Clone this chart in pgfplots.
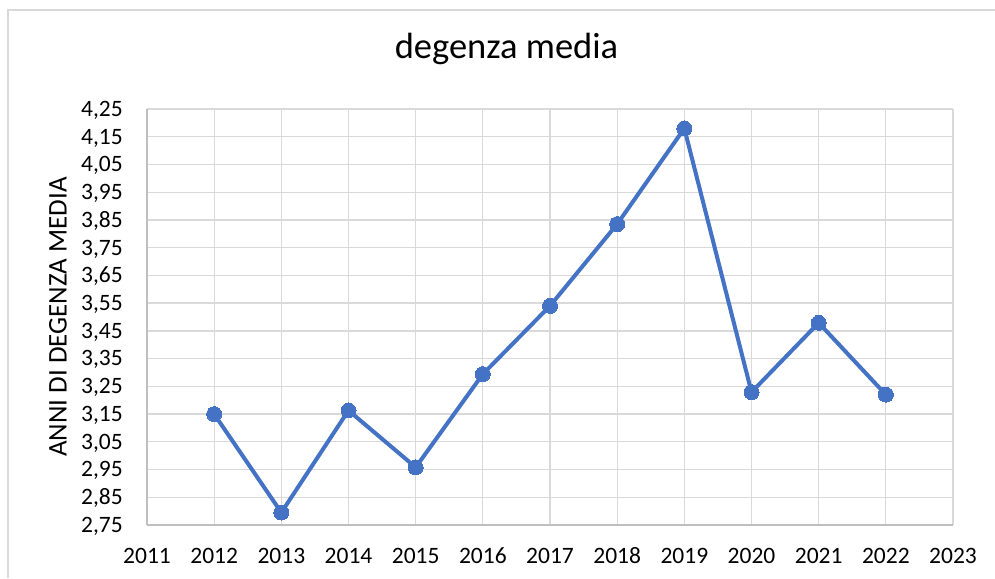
\documentclass[border=0pt]{standalone}
\usepackage{fontspec}
\setmainfont{Carlito}
\usepackage{pgfplots}
\pgfplotsset{compat=1.18}
\definecolor{gridgray}{HTML}{D9D9D9}
\definecolor{axgray}{HTML}{BFBFBF}
\definecolor{lineblue}{HTML}{4472C4}
\begin{document}
\begin{tikzpicture}
\useasboundingbox (0,0) rectangle (995pt,578pt);
\fill[white] (0,0) rectangle (995pt,578pt);
\draw[gridgray, line width=1.5pt] (8pt,0pt) -- (8pt,568pt) -- (995pt,568pt);
\begin{axis}[
  at={(147pt,53pt)}, anchor=south west,
  width=806pt, height=416pt, scale only axis,
  xmin=2011, xmax=2023, ymin=2.75, ymax=4.25,
  xtick={2011,2012,2013,2014,2015,2016,2017,2018,2019,2020,2021,2022,2023},
  ytick={2.75,2.85,2.95,3.05,3.15,3.25,3.35,3.45,3.55,3.65,3.75,3.85,3.95,4.05,4.15,4.25},
  /pgf/number format/assume math mode=true,
  yticklabel style={/pgf/number format/fixed, /pgf/number format/fixed zerofill, /pgf/number format/precision=2, /pgf/number format/use comma, anchor=base east, xshift=-24pt, yshift=-7.4pt},
  xticklabel style={/pgf/number format/1000 sep={}, anchor=base, yshift=-38pt},
  major tick length=0pt,
  tick style={draw=none},
  ticklabel style={font=\fontsize{23.5}{27}\selectfont, inner sep=0pt},
  grid=major,
  major grid style={draw=gridgray, line width=1.3pt},
  axis line style={draw=axgray, line width=1.5pt},
  axis x line*=bottom,
  axis y line*=left,
  clip=false,
  title={degenza media},
  title style={font=\fontsize{36.5}{42}\selectfont, at={(axis description cs:0.5,1)}, anchor=base, yshift=44pt, xshift=-43.5pt},
  ylabel={ANNI DI DEGENZA MEDIA},
  every axis y label/.style={at={(axis description cs:0,0.5)}, anchor=center, xshift=-89pt, rotate=90, font=\fontsize{27}{31}\selectfont},
]
\addplot[color=lineblue, line width=4pt, mark=*, mark size=7.5pt, mark options={fill=lineblue, draw=lineblue, line width=0pt}] coordinates {
(2012,3.15) (2013,2.795) (2014,3.163) (2015,2.958) (2016,3.294) (2017,3.54)
(2018,3.835) (2019,4.18) (2020,3.229) (2021,3.479) (2022,3.22)
};
\end{axis}
\end{tikzpicture}
\end{document}
